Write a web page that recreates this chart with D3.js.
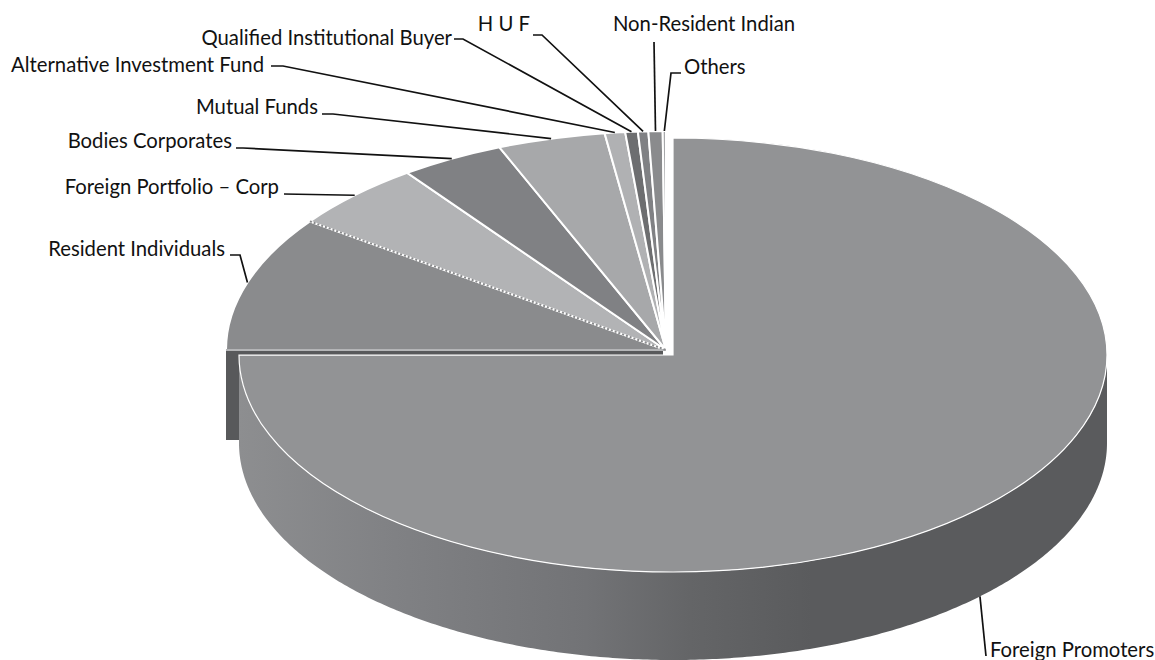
<!DOCTYPE html>
<html>
<head>
<meta charset="utf-8">
<script src="https://d3js.org/d3.v7.min.js"></script>
<style>
  html, body { margin: 0; padding: 0; background: #fff; }
  text { font-family: Lato, "Open Sans", sans-serif; font-size: 20.3px; fill: #111; }
</style>
</head>
<body>
<svg id="chart" width="1155" height="660"></svg>
<script>
// shareholding, %
var categories = ["Foreign Promoters", "Resident Individuals", "Foreign Portfolio – Corp", "Bodies Corporates",
                  "Mutual Funds", "Alternative Investment Fund", "Qualified Institutional Buyer", "H U F",
                  "Non-Resident Indian", "Others"];
var shares = [75, 10, 5, 3.83, 3.95, 0.75, 0.46, 0.38, 0.52, 0.12];
var sliceColors = ["#929395", "#8a8b8d", "#b2b3b5", "#808184", "#a7a8aa", "#b0b1b3", "#6d6e70", "#808184", "#8a8b8d", "#a7a8aa"];

// label placement: x, baseline, anchor, then the bend(s) of the leader line
var labelLayout = [
  {x: 990, y: 657, anchor: "start", bend: [[986, 656]]},
  {x: 225, y: 256, anchor: "end", bend: [[230, 255], [240, 255]]},
  {x: 279, y: 194, anchor: "end", bend: [[284, 194]]},
  {x: 232, y: 148, anchor: "end", bend: [[236, 148], [243, 148]]},
  {x: 318, y: 114, anchor: "end", bend: [[322, 114], [333, 114]]},
  {x: 264, y: 72, anchor: "end", bend: [[271, 66], [283, 66]]},
  {x: 452, y: 45, anchor: "end", bend: [[454, 39], [463, 39]]},
  {x: 530, y: 31, anchor: "end", bend: [[533, 35], [542, 35]]},
  {x: 704, y: 31, anchor: "middle", bend: [[654, 42]]},
  {x: 684, y: 74, anchor: "start", bend: [[681, 73], [671, 73]]}
];

var main = {cx: 673, cy: 355, rx: 434, ry: 217};   // the big slice
var rest = {cx: 666, cy: 350, rx: 440, ry: 219};   // the pulled-out slices
var depth = 88;

var svg = d3.select("#chart");

var pie = d3.pie().sort(null).value(function(d) { return d; });
var arcs = pie(shares);
var arc = d3.arc().innerRadius(0).outerRadius(100);

// a point on an ellipse for a pie angle
function rim(e, a) {
  return [e.cx + e.rx * Math.sin(a), e.cy - e.ry * Math.cos(a)];
}

// wall colour goes from mid grey on the left to dark on the right
var grad = svg.append("defs").append("linearGradient")
  .attr("id", "wall").attr("gradientUnits", "userSpaceOnUse")
  .attr("x1", main.cx - main.rx).attr("x2", main.cx + main.rx).attr("y1", 0).attr("y2", 0);
[[0, "#8d8e90"], [0.18, "#808184"], [0.4, "#727376"], [0.52, "#646567"], [0.66, "#5a5b5d"], [1, "#5a5b5d"]].forEach(function(s) {
  grad.append("stop").attr("offset", s[0]).attr("stop-color", s[1]);
});

// cut face of the pulled-out slices, seen below Resident Individuals
var wallAngle = arcs[1].startAngle;
svg.append("rect")
  .attr("x", rim(rest, wallAngle)[0])
  .attr("y", rest.cy)
  .attr("width", rest.rx - 3)
  .attr("height", depth + 2)
  .attr("fill", "#58595b");

// side wall of the big slice, front half only
var wallAngles = d3.range(Math.PI / 2, arcs[0].endAngle, 0.01).concat([arcs[0].endAngle]);
svg.append("path")
  .attr("d", d3.area()
    .x(function(a) { return rim(main, a)[0]; })
    .y0(function(a) { return rim(main, a)[1]; })
    .y1(function(a) { return rim(main, a)[1] + depth; })(wallAngles))
  .attr("fill", "url(#wall)");

function face(e, d, i) {
  return svg.append("path")
    .attr("d", arc(d))
    .attr("transform", "translate(" + e.cx + "," + e.cy + ") scale(" + e.rx / 100 + "," + e.ry / 100 + ")")
    .attr("fill", sliceColors[i])
    .attr("stroke", "#fff")
    .attr("vector-effect", "non-scaling-stroke");
}

face(main, arcs[0], 0).attr("stroke-width", 1.2);
arcs.slice(1).forEach(function(d, i) {
  face(rest, d, i + 1).attr("stroke-width", 2);
});

// Resident Individuals has a pale lower edge and a dotted edge against Foreign Portfolio
svg.append("line")
  .attr("x1", rest.cx - rest.rx).attr("y1", rest.cy)
  .attr("x2", rest.cx).attr("y2", rest.cy)
  .attr("stroke", "#b4b5b7").attr("stroke-width", 2);
var dotted = rim(rest, arcs[1].endAngle);
svg.append("line")
  .attr("x1", dotted[0]).attr("y1", dotted[1])
  .attr("x2", rest.cx).attr("y2", rest.cy)
  .attr("stroke", "#8a8b8d").attr("stroke-width", 2).attr("stroke-dasharray", "2 2");

// leader lines start from the middle of each slice's rim
var line = d3.line();
arcs.forEach(function(d, i) {
  var mid = (d.startAngle + d.endAngle) / 2;
  var start = i === 0 ? rim(main, mid) : rim(rest, mid);
  if (i === 0) start = [start[0], start[1] + depth];
  var l = labelLayout[i];
  svg.append("path")
    .attr("d", line(l.bend.concat([start])))
    .attr("fill", "none")
    .attr("stroke", "#111")
    .attr("stroke-width", 1.7);
  svg.append("text")
    .attr("x", l.x).attr("y", l.y)
    .attr("text-anchor", l.anchor)
    .text(categories[i]);
});
</script>
</body>
</html>
